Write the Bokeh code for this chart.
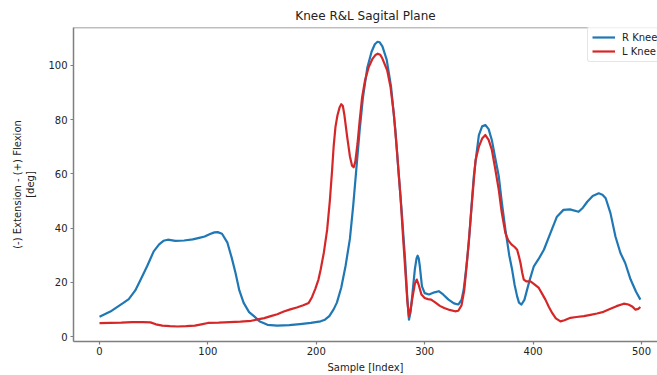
from bokeh.plotting import figure
from bokeh.models import Range1d, FixedTicker, Legend, LegendItem, Span
from bokeh.embed import file_html
from bokeh.resources import INLINE

# ---- data ----
r_sample = [0, 10, 22, 27, 33, 38, 44, 50, 55, 59, 63, 70, 78, 86, 92, 97, 102, 106, 109,
            113, 118, 122, 125.5, 129, 133, 138, 142.5, 148, 155, 164, 175, 185, 195, 204,
            208, 212, 216, 219, 223, 227, 231, 234, 237, 240, 243, 247, 251, 254, 256.5,
            258.5, 261, 265, 269, 273, 276, 279, 282, 284, 285.5, 287, 289, 291, 292.5,
            293.5, 294.5, 295.5, 297.5, 300, 304, 309, 313, 317, 322, 327, 331, 334, 336,
            338, 340.7, 343, 345.3, 348, 350, 353, 356, 359, 362, 365, 368.4, 371, 374.5,
            378, 380.7, 383, 385.3, 387, 389.3, 392, 394.5, 397, 400.7, 405, 410, 416, 422,
            428, 434, 442, 446, 450, 455, 460.6, 464, 467, 471.4, 476, 480.6, 485, 490, 495,
            499]
r_knee = [7.3, 9.2, 12.4, 13.8, 17.0, 21.0, 26.0, 31.4, 34.0, 35.3, 35.7, 35.3, 35.4, 35.8,
          36.4, 36.9, 37.8, 38.4, 38.5, 37.9, 34.6, 29.0, 23.4, 17.0, 12.4, 9.0, 7.5, 5.5,
          4.3, 4.0, 4.2, 4.6, 5.0, 5.6, 6.2, 7.5, 10.0, 12.5, 18.0, 26.0, 36.0, 48.0, 62.0,
          76.0, 88.0, 99.0, 105.0, 107.8, 108.7, 108.5, 107.0, 102.0, 92.0, 76.0, 60.0, 45.0,
          28.0, 14.0, 6.2, 9.0, 17.0, 25.0, 28.8, 29.8, 28.8, 26.0, 18.5, 16.0, 15.5, 16.3,
          16.7, 15.5, 13.6, 12.2, 11.8, 13.5, 17.3, 24.0, 34.4, 47.0, 59.0, 68.0, 74.3,
          77.5, 78.0, 76.5, 72.4, 66.0, 59.0, 50.0, 39.3, 30.0, 24.6, 19.0, 14.8, 12.5,
          11.8, 13.5, 17.3, 21.0, 25.9, 28.5, 32.0, 38.1, 44.2, 46.7, 46.9, 46.0, 47.5,
          49.7, 51.8, 52.8, 52.3, 51.0, 45.5, 36.9, 30.8, 27.1, 21.0, 16.5, 13.6]

l_sample = [0, 10, 20, 30, 40, 47, 52, 58, 65, 72, 80, 88, 94, 100, 110, 120, 130, 140, 146,
            152, 158, 164, 170, 176, 182, 188, 193, 196, 199, 202, 204, 207, 210, 212.5,
            214.6, 216, 217.7, 219.5, 221.5, 223, 224.5, 226, 228.5, 231, 233, 234.5, 236,
            238, 240, 242.3, 245, 248.4, 252, 254.5, 256.7, 259, 261, 265.4, 268.5, 271.5,
            274.5, 277.7, 280, 282.3, 284, 285.4, 287, 289, 291, 292.7, 294.5, 297, 300, 303,
            306, 310, 314, 318, 323, 328, 331, 334, 336.5, 339.2, 341.5, 343.8, 346.9, 350,
            353, 356, 359, 362, 365, 368.4, 371, 374.5, 377, 380, 383, 385.3, 387, 388.4,
            390, 391.4, 394, 397.6, 401, 405.3, 408, 411.4, 414.5, 417.6, 421, 425.3, 429,
            434.5, 440, 446.8, 453, 459, 465, 471.4, 477, 483.7, 488, 491.4, 494.5, 497, 499]
l_knee = [4.9, 5.0, 5.1, 5.3, 5.3, 5.2, 4.5, 4.0, 3.8, 3.7, 3.8, 4.0, 4.5, 5.0, 5.1, 5.3,
          5.5, 5.8, 6.3, 6.8, 7.5, 8.2, 9.2, 10.0, 10.7, 11.5, 12.4, 14.5, 17.5, 21.0, 24.6,
          31.0, 39.3, 50.0, 61.4, 70.0, 77.3, 81.5, 84.5, 85.7, 85.0, 81.5, 73.6, 66.5,
          63.0, 62.4, 64.5, 71.0, 79.5, 88.3, 94.5, 99.4, 102.5, 103.8, 104.3, 103.9, 102.5,
          98.2, 92.0, 82.2, 68.0, 51.6, 37.0, 23.4, 13.0, 7.5, 10.0, 15.0, 19.5, 21.0, 19.0,
          15.5, 14.2, 13.8, 13.6, 12.5, 11.3, 10.5, 9.8, 9.3, 9.5, 11.5, 17.0, 28.3, 39.0,
          50.4, 65.0, 70.0, 73.0, 74.3, 72.5, 68.8, 62.0, 54.0, 46.0, 38.1, 35.5, 34.0,
          33.0, 32.0, 29.5, 27.1, 23.5, 21.0, 20.3, 20.3, 19.3, 17.9, 16.0, 13.6, 11.0, 8.7,
          6.7, 5.6, 6.0, 6.9, 7.2, 7.5, 8.0, 8.5, 9.1, 10.2, 11.2, 12.1, 11.8, 11.1, 9.9,
          10.2, 10.9]

x_ticks = [0, 100, 200, 300, 400, 500]
y_ticks = [0, 20, 40, 60, 80, 100]
series_names = ["R Knee", "L Knee"]

FONT = "DejaVu Sans"
SPINE = "#7f7f7f"

p = figure(width=657, height=375, output_backend="svg", toolbar_location=None,
           x_range=Range1d(-24, 514.8), y_range=Range1d(-1.84, 113.96),
           title="Knee R&L Sagital Plane",
           min_border_left=73, min_border_top=27, min_border_bottom=33, min_border_right=0)

p.title.align = "center"
p.title.text_font = FONT
p.title.text_font_size = "12px"
p.title.text_font_style = "normal"
p.title.text_color = "#222222"

p.background_fill_color = "white"
p.border_fill_color = "white"
p.outline_line_color = None
p.xgrid.grid_line_color = None
p.ygrid.grid_line_color = None

top_spine = Span(location=113.96, dimension="width", line_color=SPINE, line_width=1.5)
p.add_layout(top_spine)

for ax in (p.xaxis[0], p.yaxis[0]):
    ax.axis_line_color = SPINE
    ax.axis_line_width = 1.5
    ax.major_tick_line_color = SPINE
    ax.major_tick_line_width = 1.2
    ax.major_tick_out = 3
    ax.major_tick_in = 0
    ax.minor_tick_line_color = None
    ax.major_label_text_font = FONT
    ax.major_label_text_font_size = "10px"
    ax.major_label_text_color = "#222222"
    ax.axis_label_text_font = FONT
    ax.axis_label_text_font_size = "10px"
    ax.axis_label_text_font_style = "normal"
    ax.axis_label_text_color = "#222222"

p.xaxis.ticker = FixedTicker(ticks=x_ticks)
p.yaxis.ticker = FixedTicker(ticks=y_ticks)
p.xaxis.major_label_standoff = 2
p.yaxis.major_label_standoff = 3
p.xaxis.axis_label = "Sample [Index]"
p.yaxis.axis_label = "(-) Extension - (+) Flexion\n[deg]"
p.xaxis.axis_label_standoff = 4
p.yaxis.axis_label_standoff = 9

r1 = p.line(r_sample, r_knee, line_color="#1f77b4", line_width=2.2, line_join="round")
r2 = p.line(l_sample, l_knee, line_color="#d62728", line_width=2.2, line_join="round")

legend = Legend(items=[LegendItem(label=series_names[0], renderers=[r1]),
                       LegendItem(label=series_names[1], renderers=[r2])],
                location=(514, 279))
legend.label_text_font = FONT
legend.label_text_font_size = "10px"
legend.label_text_color = "#222222"
legend.label_height = 12
legend.glyph_height = 12
legend.glyph_width = 23
legend.label_standoff = 7
legend.spacing = 2
legend.padding = 4
legend.margin = 0
legend.border_line_color = "#cccccc"
legend.border_line_width = 1
legend.border_radius = 3
legend.background_fill_alpha = 0.8
p.add_layout(legend)

open("out.html", "w").write(file_html(p, INLINE))
